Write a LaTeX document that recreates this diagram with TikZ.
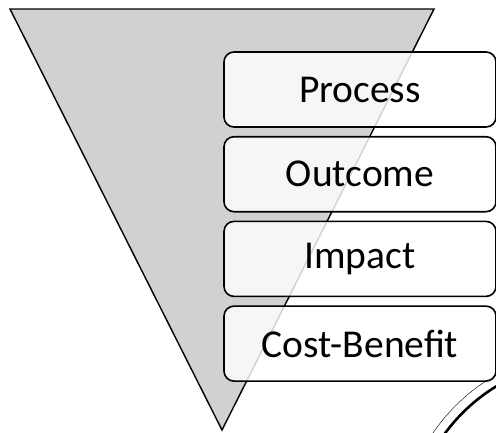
\documentclass[tikz,border=0pt]{standalone}
\usepackage{fontspec}
\setmainfont{Carlito}
\usepackage{xcolor}
\usepackage{tikz}

\begin{document}
\begin{tikzpicture}[x=1pt,y=-1pt,
	    stage/.style={draw, line width=1.6pt, rounded corners=10pt, fill=white, fill opacity=0.82, text opacity=1,
	        minimum width=272pt, minimum height=75pt, inner sep=0pt, font=\fontsize{39.5}{46}\selectfont}]
	
	    \useasboundingbox (0,0) rectangle (496,432);
	    \clip (0,0) rectangle (496,432);
	
	    \fill[gray!36] (10,9) -- (434,9) -- (222,430) -- cycle;
	    \draw[line width=1.4pt, line join=miter] (10,9) -- (434,9) -- (222,430) -- cycle;
	
	    \draw[thin] (590,540) circle (190);
	    \draw[line width=2.6pt] (590,540) circle (180);
	
	    \foreach \name/\txt [count=\i] in {process/Process, outcome/Outcome, impact/Impact, costbenefit/Cost-Benefit}
	        \node[stage] (\name) at (360, {89.5+84.7*(\i-1)}) {\txt};
	
	\end{tikzpicture}
\end{document}
